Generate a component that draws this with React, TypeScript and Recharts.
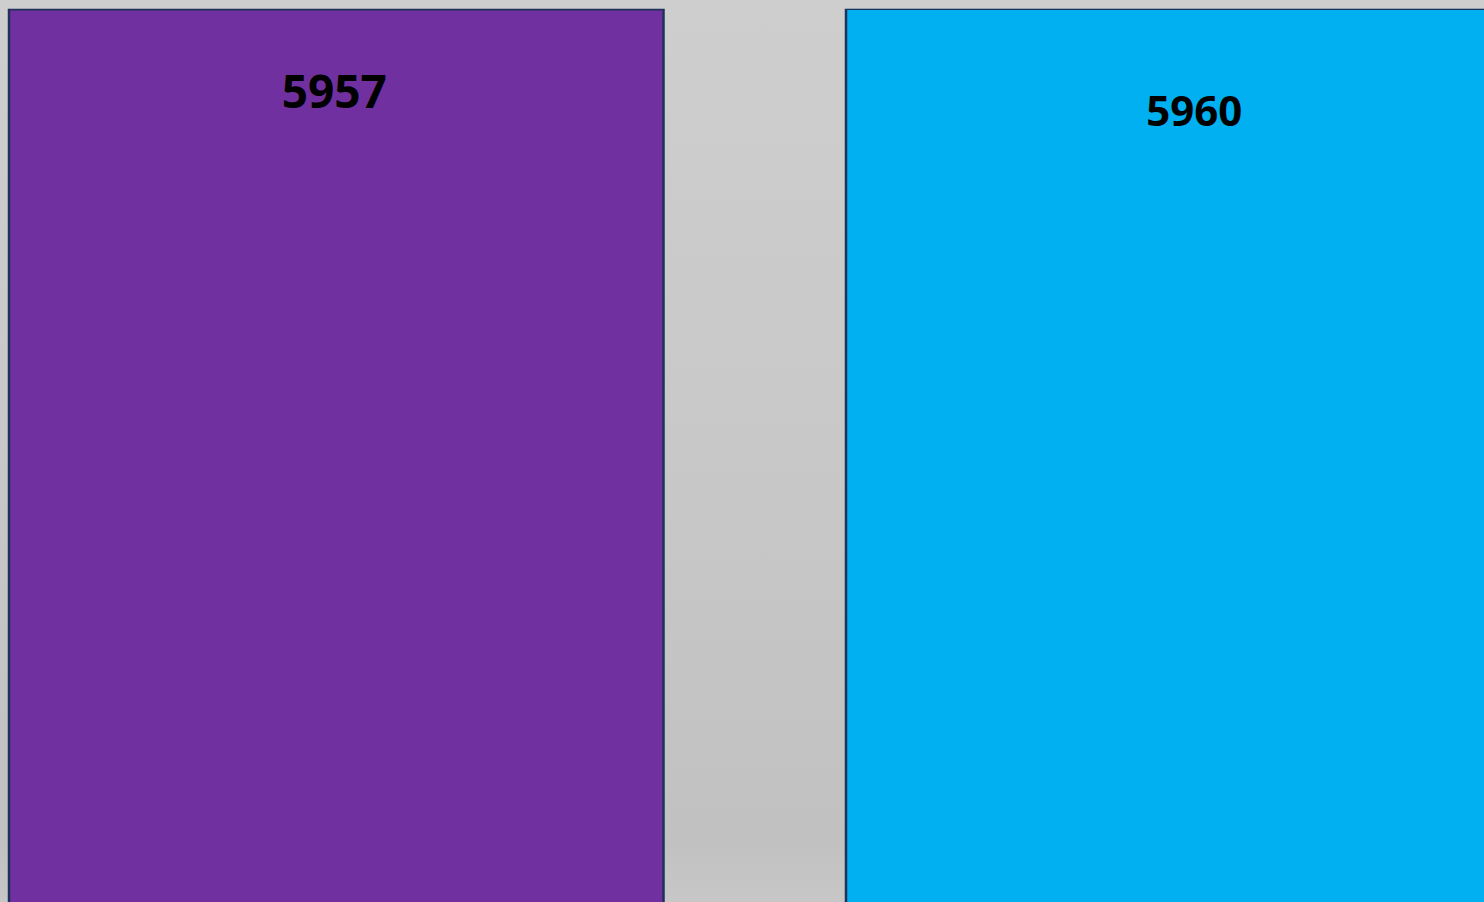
import React from "react";
import { BarChart, Bar, XAxis, YAxis, Cell, LabelList } from "recharts";

const categories = ["Category 1", "Category 2"];
const values = [5957, 5960];
const barColors = ["#7030A0", "#00B0F0"];

const data = categories.map((name, i) => ({ name, value: values[i] }));

// label style per bar (offsets from bar top-center, font size)
const labelStyles = [
  { dx: -2, dy: 99, size: 46 },
  { dx: 21, dy: 117.5, size: 42 },
];

const renderLabel = (props: any) => {
  const { x, y, width, value, index } = props;
  const s = labelStyles[index] || labelStyles[0];
  return (
    <text
      x={Number(x) + Number(width) / 2 + s.dx}
      y={Number(y) + s.dy}
      textAnchor="middle"
      fontFamily="'Open Sans', sans-serif"
      fontWeight={700}
      fontSize={s.size}
      fill="#000000"
    >
      {value}
    </text>
  );
};

export default function App() {
  return (
    <div
      style={{
        width: 1484,
        height: 902,
        overflow: "hidden",
        position: "relative",
        background:
          "linear-gradient(to bottom, #cecece 0%, #c8c8c8 50%, #c1c1c1 93%, #c7c7c7 100%)",
      }}
    >
      <style>{`body{margin:0;overflow:hidden;}`}</style>
      <div style={{ position: "absolute", left: -82.3, top: 0 }}>
        <BarChart
          width={1674}
          height={1100}
          data={data}
          margin={{ top: 8.8, right: 0, left: 0, bottom: 0 }}
        >
          <XAxis dataKey="name" hide />
          <YAxis hide domain={[0, 5960]} allowDataOverflow />
          <Bar
            dataKey="value"
            barSize={654.5}
            stroke="#1F3158"
            strokeWidth={2.5}
            isAnimationActive={false}
          >
            {data.map((d, i) => (
              <Cell key={d.name} fill={barColors[i]} />
            ))}
            <LabelList dataKey="value" content={renderLabel} />
          </Bar>
        </BarChart>
      </div>
    </div>
  );
}
